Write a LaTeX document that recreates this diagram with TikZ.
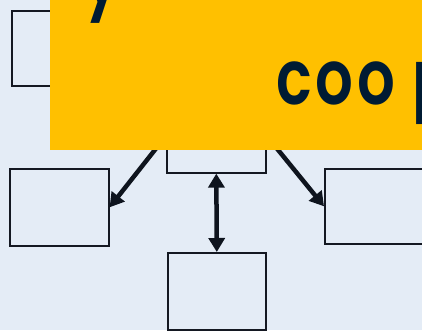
\documentclass[tikz,border=0pt]{standalone}
\usepackage{fontspec}
\newfontfamily\bannerfont{Poppins}[UprightFont=* SemiBold, FakeStretch=0.78]
\usetikzlibrary{arrows.meta}
\definecolor{bg}{RGB}{228,236,246}
\definecolor{banner}{RGB}{255,192,0}
\definecolor{ink}{RGB}{0,27,51}
\definecolor{edge}{RGB}{20,24,34}
\definecolor{arr}{RGB}{14,20,30}
\tikzset{
  box/.style={draw=edge, line width=1.6pt, minimum width=99pt, minimum height=75pt, inner sep=0pt, anchor=north west},
  conn/.style={draw=arr, line width=4.5pt, -{Triangle[length=14pt,width=16pt]}},
  dconn/.style={draw=arr, line width=4.5pt, {Triangle[length=14pt,width=16pt]}-{Triangle[length=14pt,width=16pt]}},
  bigtext/.style={text=ink, inner sep=0pt, font=\bannerfont\fontsize{76}{76}\selectfont}
}
\begin{document}
\begin{tikzpicture}[x=1pt,y=-1pt]
\useasboundingbox (0,0) rectangle (422,330);
\fill[bg] (0,0) rectangle (422,330);
\node[box] (tl) at (11,10) {};
\node[box, minimum height=74pt] (top) at (166,98) {};
\node[box, minimum height=77pt] (left) at (9,168) {};
\node[box] (right) at (324,168) {};
\node[box, minimum width=98pt, minimum height=77pt] (bottom) at (167,252) {};
\draw[conn] (top.west) -- (left.east);
\draw[conn] (top.east) -- (right.west);
\draw[dconn] (top.south) -- (bottom.north);
\fill[banner] (50,0) rectangle (430,150);
\begin{scope}
\clip (50,0) rectangle (422,150);
\node[bigtext, anchor=base west] (l1) at (84,3) {y};
\node[bigtext, anchor=base west] (l2) at (276,104) {c\kern4pt o\kern4pt o\kern17pt p};
\end{scope}
\end{tikzpicture}
\end{document}
